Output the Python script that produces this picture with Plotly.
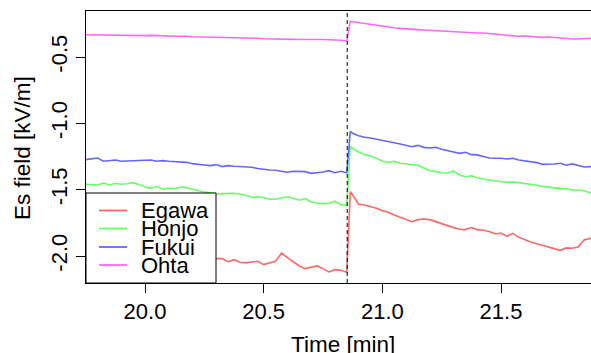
import plotly.graph_objects as go

# ---------------- data ----------------
time_pre = [19.750, 19.775, 19.800, 19.825, 19.850, 19.875, 19.900, 19.925, 19.950, 19.975,
            20.000, 20.025, 20.050, 20.075, 20.100, 20.125, 20.150, 20.175, 20.200, 20.225,
            20.250, 20.275, 20.300, 20.325, 20.350, 20.375, 20.400, 20.425, 20.450, 20.475,
            20.500, 20.525, 20.550, 20.575, 20.600, 20.625, 20.650, 20.675, 20.700, 20.725,
            20.750, 20.775, 20.800, 20.825, 20.850]
time_post = [20.865,
             20.875, 20.900, 20.925, 20.950, 20.975, 21.000, 21.025, 21.050, 21.075, 21.100,
             21.125, 21.150, 21.175, 21.200, 21.225, 21.250, 21.275, 21.300, 21.325, 21.350,
             21.375, 21.400, 21.425, 21.450, 21.475, 21.500, 21.525, 21.550, 21.575, 21.600,
             21.625, 21.650, 21.675, 21.700, 21.725, 21.750, 21.775, 21.800, 21.825, 21.850,
             21.875, 21.900]
time_min = time_pre + time_post

egawa = [-1.985, -1.990, -1.982, -1.995, -1.990, -2.000, -1.995, -2.005, -2.000, -2.010,
         -2.005, -2.012, -2.008, -2.015, -2.010, -2.018, -2.012, -2.020, -2.015, -2.020,
         -2.018, -2.022, -2.020, -2.020, -2.043, -2.028, -2.047, -2.052, -2.045, -2.040,
         -2.065, -2.055, -2.040, -1.979, -2.010, -2.045, -2.075, -2.095, -2.083, -2.075,
         -2.095, -2.120, -2.103, -2.108, -2.122,
         -1.515,
         -1.540, -1.610, -1.615, -1.625, -1.640, -1.658, -1.671, -1.691, -1.706, -1.723,
         -1.741, -1.726, -1.721, -1.726, -1.741, -1.761, -1.776, -1.786, -1.798, -1.801,
         -1.786, -1.801, -1.806, -1.816, -1.832, -1.829, -1.851, -1.829, -1.859, -1.879,
         -1.894, -1.907, -1.919, -1.932, -1.942, -1.957, -1.939, -1.942, -1.932, -1.879,
         -1.867, -1.885]

honjo = [-1.459, -1.462, -1.465, -1.450, -1.465, -1.452, -1.459, -1.455, -1.447, -1.462,
         -1.480, -1.490, -1.475, -1.497, -1.487, -1.492, -1.480, -1.485, -1.497, -1.510,
         -1.517, -1.523, -1.535, -1.530, -1.527, -1.527, -1.535, -1.542, -1.557, -1.553,
         -1.560, -1.572, -1.572, -1.563, -1.553, -1.565, -1.580, -1.568, -1.593, -1.600,
         -1.605, -1.603, -1.587, -1.613, -1.618,
         -1.176,
         -1.188, -1.216, -1.236, -1.246, -1.263, -1.284, -1.294, -1.286, -1.301, -1.306,
         -1.309, -1.316, -1.336, -1.357, -1.364, -1.372, -1.374, -1.361, -1.389, -1.402,
         -1.395, -1.410, -1.419, -1.427, -1.437, -1.440, -1.445, -1.442, -1.447, -1.452,
         -1.459, -1.467, -1.475, -1.480, -1.490, -1.492, -1.492, -1.502, -1.502, -1.508,
         -1.523, -1.530]

fukui = [-1.274, -1.269, -1.261, -1.286, -1.281, -1.276, -1.286, -1.284, -1.281, -1.281,
         -1.279, -1.276, -1.286, -1.281, -1.286, -1.289, -1.291, -1.294, -1.304, -1.311,
         -1.314, -1.319, -1.311, -1.326, -1.319, -1.324, -1.326, -1.329, -1.331, -1.341,
         -1.349, -1.352, -1.354, -1.361, -1.369, -1.361, -1.364, -1.364, -1.377, -1.374,
         -1.367, -1.357, -1.372, -1.361, -1.372,
         -1.060,
         -1.075, -1.093, -1.105, -1.110, -1.118, -1.125, -1.135, -1.146, -1.156, -1.168,
         -1.176, -1.166, -1.181, -1.186, -1.181, -1.196, -1.206, -1.216, -1.226, -1.218,
         -1.236, -1.238, -1.251, -1.261, -1.263, -1.263, -1.269, -1.263, -1.276, -1.281,
         -1.286, -1.296, -1.309, -1.309, -1.306, -1.301, -1.316, -1.306, -1.316, -1.329,
         -1.326, -1.330]

ohta = [-0.332, -0.333, -0.334, -0.333, -0.335, -0.334, -0.336, -0.335, -0.337, -0.336,
        -0.339, -0.337, -0.341, -0.340, -0.343, -0.342, -0.345, -0.344, -0.347, -0.348,
        -0.350, -0.351, -0.352, -0.354, -0.355, -0.353, -0.352, -0.356, -0.358, -0.359,
        -0.362, -0.364, -0.365, -0.366, -0.365, -0.367, -0.368, -0.367, -0.368, -0.369,
        -0.368, -0.370, -0.370, -0.374, -0.379,
        -0.231,
        -0.234, -0.241, -0.249, -0.253, -0.259, -0.266, -0.272, -0.279, -0.284, -0.289,
        -0.291, -0.294, -0.296, -0.299, -0.302, -0.304, -0.306, -0.309, -0.311, -0.314,
        -0.317, -0.319, -0.319, -0.321, -0.327, -0.332, -0.336, -0.342, -0.344, -0.342,
        -0.347, -0.349, -0.352, -0.349, -0.354, -0.357, -0.362, -0.364, -0.364, -0.362,
        -0.357, -0.356]

series_names = ["Egawa", "Honjo", "Fukui", "Ohta"]
series_values = [egawa, honjo, fukui, ohta]
series_colors = ["rgba(255,0,0,0.6)", "rgba(0,255,0,0.6)", "rgba(0,0,255,0.6)", "rgba(255,0,255,0.6)"]

event_time = 20.852
x_tickvals = [20.0, 20.5, 21.0, 21.5]
x_ticktext = ["20.0", "20.5", "21.0", "21.5"]
y_tickvals = [-0.5, -1.0, -1.5, -2.0]
y_ticktext = ["-0.5", "-1.0", "-1.5", "-2.0"]

# ---------------- layout geometry (pixels) ----------------
W, H = 591, 353
L, R, T, B = 86, 0, 11, 70
PW, PH = W - L - R, H - T - B
FONT = "Liberation Sans, Arial, Helvetica, sans-serif"


def px(xp):
    return (xp - L) / PW


def py(yp):
    return (H - B - yp) / PH


fig = go.Figure()
for name, vals, col in zip(series_names, series_values, series_colors):
    fig.add_trace(go.Scatter(x=time_min, y=vals, mode="lines", name=name,
                             line=dict(color=col, width=1.6), showlegend=False))

shapes = []
# event dashed line
shapes.append(dict(type="line", xref="x", yref="paper", x0=event_time, x1=event_time,
                   y0=0, y1=1, line=dict(color="black", width=1, dash="4px,3px")))
# legend box
shapes.append(dict(type="rect", xref="paper", yref="paper", x0=px(86), x1=px(216),
                   y0=py(283), y1=py(193), fillcolor="white",
                   line=dict(color="black", width=1), layer="above"))
annotations = []
row_y = [210.5, 228.5, 247, 265]
for name, col, ry in zip(series_names, series_colors, row_y):
    shapes.append(dict(type="line", xref="paper", yref="paper", x0=px(99), x1=px(127),
                       y0=py(ry), y1=py(ry), line=dict(color=col, width=1.8), layer="above"))
    annotations.append(dict(text=name, xref="paper", yref="paper", x=px(139), y=py(ry),
                            xanchor="left", yanchor="middle", showarrow=False,
                            font=dict(family=FONT, size=22, color="black")))

# axis titles
annotations.append(dict(text="Time [min]", xref="paper", yref="paper", x=px(343), y=py(344),
                        xanchor="center", yanchor="middle", showarrow=False,
                        font=dict(family=FONT, size=22.5, color="black")))
annotations.append(dict(text="Es field [kV/m]", xref="paper", yref="paper", x=px(22), y=py(148),
                        xanchor="center", yanchor="middle", showarrow=False, textangle=-90,
                        font=dict(family=FONT, size=22.5, color="black")))

fig.update_layout(
    width=W, height=H,
    margin=dict(l=L, r=R, t=T, b=B, pad=0, autoexpand=False),
    paper_bgcolor="white", plot_bgcolor="white",
    shapes=shapes, annotations=annotations,
    showlegend=False,
    font=dict(family=FONT, color="black"),
)
fig.update_xaxes(range=[19.7514, 21.8792], tickvals=x_tickvals, ticktext=x_ticktext,
                 automargin=False,
                 showgrid=False, zeroline=False, showline=True, mirror=True,
                 linecolor="black", linewidth=1, ticks="outside", ticklen=9,
                 tickcolor="black", tickfont=dict(family=FONT, size=22, color="black"))
fig.update_yaxes(range=[-2.2035, -0.1533], tickvals=y_tickvals, ticktext=y_ticktext,
                 automargin=False,
                 showgrid=False, zeroline=False, showline=True, mirror=False,
                 linecolor="black", linewidth=1, ticks="outside", ticklen=9,
                 tickcolor="black", tickangle=-90,
                 tickfont=dict(family=FONT, size=22, color="black"))

fig.write_html("out.html", config={"displayModeBar": False},
               post_script="document.body.style.margin='0px';")
